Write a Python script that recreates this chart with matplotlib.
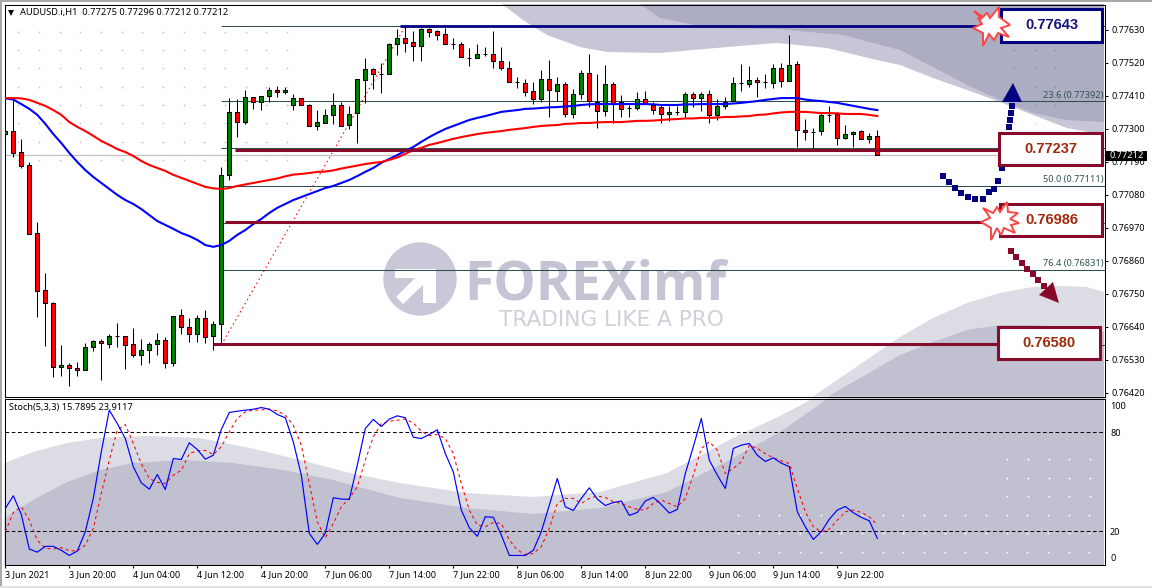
"""AUDUSD H1 chart with fibo levels, two moving averages and a stochastic pane."""
import matplotlib
matplotlib.use("Agg")
import matplotlib.pyplot as plt
import matplotlib.patches as mpatches
import numpy as np

W, H = 1152, 588
UI_FONT = ["Noto Sans", "DejaVu Sans"]
plt.rcParams["font.family"] = UI_FONT

# prices in points (1e-5)
opens = [77283, 77293, 77223, 77180, 76953, 76763, 76720, 76507, 76513, 76503,
         76497, 76573, 76593, 76583, 76610, 76610, 76583, 76547, 76563, 76583,
         76597, 76520, 76680, 76640, 76617, 76670, 76610, 76650, 77147, 77357,
         77323, 77407, 77390, 77410, 77430, 77423, 77380, 77403, 77380, 77310,
         77320, 77347, 77380, 77313, 77353, 77463, 77500, 77483, 77483, 77583,
         77603, 77590, 77577, 77633, 77627, 77617, 77583, 77583, 77537, 77537,
         77550, 77550, 77527, 77503, 77457, 77453, 77427, 77400, 77467, 77427,
         77450, 77350, 77417, 77487, 77390, 77360, 77450, 77390, 77370, 77370,
         77400, 77380, 77373, 77350, 77357, 77357, 77417, 77403, 77417, 77347,
         77377, 77393, 77453, 77450, 77463, 77457, 77453, 77503, 77460, 77517,
         77297, 77290, 77293, 77347, 77350, 77270, 77283, 77293, 77267, 77275]
highs = [77320, 77397, 77267, 77190, 76990, 76820, 76723, 76580, 76520, 76523,
         76587, 76597, 76600, 76617, 76653, 76610, 76637, 76600, 76590, 76620,
         76607, 76677, 76700, 76670, 76680, 76697, 76660, 77173, 77403, 77400,
         77430, 77407, 77410, 77440, 77443, 77440, 77417, 77403, 77383, 77363,
         77367, 77420, 77390, 77377, 77467, 77537, 77503, 77520, 77587, 77633,
         77643, 77627, 77637, 77637, 77630, 77637, 77603, 77590, 77570, 77583,
         77573, 77627, 77573, 77527, 77473, 77467, 77457, 77497, 77530, 77473,
         77457, 77433, 77497, 77550, 77483, 77513, 77457, 77413, 77380, 77423,
         77427, 77390, 77380, 77377, 77377, 77423, 77423, 77423, 77430, 77400,
         77407, 77473, 77517, 77510, 77473, 77483, 77517, 77520, 77613, 77527,
         77333, 77303, 77353, 77377, 77357, 77313, 77293, 77297, 77287, 77296]
lows = [77253, 77207, 77170, 76950, 76673, 76577, 76473, 76477, 76443, 76477,
        76497, 76560, 76463, 76570, 76573, 76500, 76540, 76513, 76520, 76547,
        76503, 76510, 76617, 76590, 76590, 76587, 76563, 76580, 77130, 77273,
        77317, 77367, 77363, 77390, 77407, 77417, 77363, 77380, 77310, 77297,
        77320, 77317, 77310, 77300, 77253, 77387, 77433, 77420, 77483, 77547,
        77557, 77527, 77527, 77607, 77597, 77583, 77567, 77540, 77510, 77537,
        77543, 77503, 77497, 77457, 77437, 77410, 77383, 77390, 77340, 77393,
        77340, 77337, 77400, 77373, 77303, 77343, 77320, 77340, 77340, 77363,
        77383, 77350, 77320, 77327, 77347, 77340, 77373, 77360, 77320, 77330,
        77367, 77393, 77427, 77440, 77407, 77437, 77437, 77440, 77460, 77240,
        77263, 77237, 77280, 77323, 77247, 77267, 77240, 77267, 77253, 77212]
closes = [77293, 77220, 77177, 76950, 76760, 76720, 76507, 76513, 76503, 76497,
          76573, 76593, 76587, 76610, 76610, 76580, 76547, 76563, 76583, 76597,
          76520, 76677, 76640, 76617, 76670, 76607, 76650, 77147, 77357, 77323,
          77407, 77390, 77410, 77430, 77423, 77430, 77403, 77380, 77310, 77323,
          77347, 77380, 77310, 77350, 77467, 77500, 77483, 77483, 77583, 77603,
          77587, 77577, 77633, 77623, 77613, 77583, 77583, 77540, 77537, 77550,
          77550, 77527, 77503, 77457, 77457, 77423, 77400, 77467, 77430, 77450,
          77350, 77417, 77487, 77393, 77360, 77450, 77383, 77367, 77370, 77400,
          77387, 77363, 77350, 77357, 77357, 77417, 77403, 77417, 77347, 77377,
          77390, 77453, 77453, 77463, 77457, 77457, 77503, 77460, 77513, 77297,
          77290, 77290, 77347, 77347, 77270, 77283, 77290, 77267, 77277, 77212]
ma_blue = [77402, 77398, 77383, 77367, 77347, 77317, 77283, 77253, 77220, 77190,
           77163, 77140, 77120, 77100, 77080, 77063, 77050, 77033, 77013, 76993,
           76980, 76967, 76953, 76943, 76930, 76913, 76907, 76913, 76927, 76947,
           76963, 76983, 77000, 77020, 77037, 77050, 77063, 77073, 77083, 77093,
           77103, 77110, 77120, 77130, 77143, 77157, 77170, 77187, 77200, 77213,
           77227, 77240, 77257, 77273, 77287, 77300, 77310, 77320, 77330, 77337,
           77343, 77350, 77357, 77360, 77363, 77367, 77368, 77370, 77372, 77373,
           77375, 77377, 77380, 77382, 77383, 77383, 77383, 77383, 77383, 77383,
           77383, 77382, 77380, 77380, 77380, 77382, 77382, 77383, 77383, 77383,
           77383, 77385, 77387, 77390, 77393, 77397, 77400, 77403, 77403, 77403,
           77398, 77395, 77393, 77390, 77387, 77382, 77377, 77372, 77367, 77363]
ma_red = [77403, 77403, 77402, 77397, 77387, 77377, 77363, 77347, 77323, 77307,
          77293, 77277, 77260, 77247, 77233, 77223, 77210, 77193, 77180, 77170,
          77160, 77147, 77137, 77127, 77117, 77107, 77102, 77100, 77103, 77110,
          77115, 77120, 77125, 77130, 77135, 77142, 77148, 77150, 77153, 77157,
          77158, 77162, 77168, 77173, 77178, 77183, 77187, 77190, 77197, 77205,
          77217, 77230, 77237, 77247, 77253, 77260, 77267, 77273, 77278, 77283,
          77287, 77290, 77293, 77297, 77300, 77303, 77307, 77310, 77312, 77313,
          77317, 77318, 77320, 77320, 77322, 77323, 77323, 77323, 77325, 77327,
          77327, 77328, 77330, 77332, 77333, 77335, 77335, 77337, 77337, 77338,
          77340, 77340, 77342, 77343, 77347, 77348, 77352, 77355, 77357, 77357,
          77357, 77355, 77353, 77353, 77352, 77350, 77350, 77350, 77347, 77343]
stoch_k = [33.9, 41.6, 30.3, 9.3, 7.4, 10.9, 10.9, 8.5, 5.4, 8.1,
           19.8, 40.0, 68.3, 93.5, 85.4, 76.3, 59.2, 49.5, 45.6, 54.5,
           45.4, 64.2, 63.6, 73.7, 69.7, 63.8, 66.2, 81.8, 92.1, 92.9,
           93.5, 94.1, 95.1, 94.1, 90.9, 88.9, 74.3, 54.1, 18.8, 12.1,
           18.8, 40.4, 39.6, 39.4, 60.2, 82.4, 87.9, 83.6, 88.1, 90.1,
           88.9, 77.1, 76.3, 78.8, 81.6, 67.2, 56.1, 32.9, 22.2, 17.0,
           28.9, 28.5, 17.8, 5.4, 5.4, 5.4, 8.5, 19.8, 35.9, 52.1,
           34.9, 32.7, 40.0, 46.4, 39.6, 35.7, 37.5, 38.4, 29.7, 31.5,
           38.4, 40.6, 36.3, 31.1, 33.3, 55.1, 71.3, 88.5, 63.2, 54.1,
           46.0, 70.3, 72.3, 73.3, 66.2, 62.4, 64.6, 61.4, 59.2, 31.9,
           22.8, 15.1, 19.8, 27.4, 32.9, 35.1, 31.3, 28.5, 26.4, 15.79]
stoch_d = [19.8, 31.5, 34.9, 26.8, 14.7, 9.7, 9.3, 10.1, 8.3, 8.1,
           11.7, 21.8, 43.0, 63.2, 81.4, 84.8, 73.3, 61.2, 52.1, 49.7,
           49.1, 54.1, 57.1, 67.2, 68.9, 69.1, 66.6, 71.3, 80.4, 88.5,
           92.5, 93.5, 93.7, 94.1, 93.1, 90.5, 84.4, 72.3, 49.1, 25.8,
           16.1, 24.8, 34.9, 40.0, 47.0, 63.2, 77.3, 85.4, 86.8, 87.4,
           88.1, 85.8, 80.8, 78.0, 78.8, 76.3, 67.2, 49.1, 32.9, 23.8,
           22.8, 25.4, 24.8, 14.7, 8.7, 6.0, 6.6, 10.7, 21.8, 36.9,
           40.0, 40.0, 36.9, 40.0, 41.4, 40.6, 38.0, 36.9, 34.9, 33.3,
           32.9, 36.9, 39.0, 36.9, 34.9, 40.0, 54.1, 70.3, 74.3, 69.3,
           55.1, 58.2, 62.2, 72.3, 70.3, 67.2, 64.6, 62.8, 61.2, 46.0,
           31.9, 22.8, 19.8, 21.4, 26.8, 31.9, 32.9, 31.5, 28.9, 23.91]

time_ticks = list(range(0, 112, 8))
time_labels = ["3 Jun 2021", "3 Jun 20:00", "4 Jun 04:00", "4 Jun 12:00",
               "4 Jun 20:00", "7 Jun 06:00", "7 Jun 14:00", "7 Jun 22:00",
               "8 Jun 06:00", "8 Jun 14:00", "8 Jun 22:00", "9 Jun 06:00",
               "9 Jun 14:00", "9 Jun 22:00"]
price_ticks = [0.77630, 0.77520, 0.77410, 0.77300, 0.77190, 0.77080,
               0.76970, 0.76860, 0.76750, 0.76640, 0.76530, 0.76420]
fib_levels = [0.77643, 0.77392, 0.77237, 0.77111, 0.76986, 0.76831, 0.76580]
# the other fibo captions are hidden behind the level boxes
fib_captions = [("23.6", 0.77392), ("50.0", 0.77111), ("76.4", 0.76831)]
last_price = 0.77212

# background artwork, in screen pixels
top_light = [(502, 4), (523, 20), (547, 35), (580, 47), (607, 52), (660, 53), (727, 47),
             (777, 43), (827, 48), (877, 60), (900, 65), (933, 78), (967, 90), (1000, 102),
             (1033, 115), (1067, 128), (1104, 135), (1104, 4)]
top_dark = [(640, 4), (660, 18), (710, 28), (777, 29), (843, 35), (900, 50), (933, 67),
            (967, 85), (1000, 100), (1033, 113), (1067, 120), (1104, 122), (1104, 4)]
low_light = [(813, 396.5), (900, 337), (933, 318), (967, 303), (1000, 293), (1033, 287),
             (1060, 286), (1087, 287), (1104, 292), (1104, 396.5)]
low_dark = [(828, 396.5), (900, 355), (933, 342), (967, 330), (1000, 325), (1033, 325),
            (1067, 328), (1104, 332), (1104, 396.5)]
sub_light = [(4.5, 463), (33, 452), (67, 443), (100, 438), (150, 436), (200, 438), (250, 448),
             (300, 460), (350, 473), (400, 483), (467, 493), (533, 497), (600, 492), (667, 473),
             (733, 438), (780, 416), (813, 398.5), (1104, 398.5), (1104, 565), (4.5, 565)]
sub_dark = [(4.5, 518), (33, 500), (67, 482), (100, 470), (133, 463), (183, 460), (233, 463),
            (283, 470), (333, 480), (400, 498), (467, 508), (533, 514), (600, 508), (667, 492),
            (733, 458), (780, 432), (828, 398.5), (1104, 398.5), (1104, 565), (4.5, 565)]
navy_dots = [(943, 176), (949, 182), (955, 188), (961, 193), (968, 197), (975, 199), (983, 199),
             (989, 192), (994, 189), (998, 181), (1002, 168), (1009, 127), (1010, 120),
             (1011, 113), (1012, 106)]
maroon_dots = [(1011, 251), (1016, 257), (1022, 263), (1027, 269), (1033, 274), (1038, 280),
               (1044, 286)]
burst_top = [(-18, -14), (-9, -8), (-5, -12), (-2, -7), (7, -18), (7, -8), (18, 0), (9, 3),
             (17, 12), (6, 8), (2, 15), (-3, 9), (-9, 21), (-9, 8), (-19, 3), (-10, -1),
             (-14, -7), (-10, -6)]
burst_mid = [(-17, -12), (-7, -7), (-3, -13), (0, -8), (7, -18), (8, -8), (18, -7), (10, -1),
             (19, 3), (11, 5), (15, 13), (4, 8), (1, 15), (-3, 8), (-9, 20), (-9, 8),
             (-19, 2), (-10, -2), (-13, -7)]
logo_arrow = [(395, 269), (453, 269), (436, 269), (436, 303), (423, 303), (423, 285), (403, 304),
              (396, 297), (415, 278), (395, 278)]

NAVY = "#000080"
MAROON = "#870a2b"
FIB = "#2f4f4f"


def pane(left, top, right, bottom, zorder):
    return fig.add_axes([left / W, 1 - bottom / H, (right - left) / W, (bottom - top) / H],
                        zorder=zorder)


fig = plt.figure(figsize=(W / 100, H / 100), dpi=100, facecolor="white")

# pixel layers behind and in front of the two chart panes
bg = pane(0, 0, W, H, 0)
fg = pane(0, 0, W, H, 5)
for layer in (bg, fg):
    layer.set_xlim(0, W)
    layer.set_ylim(H, 0)
    layer.axis("off")

# window border
bg.add_patch(mpatches.Rectangle((0, 0), W, 1.5, color="#a8a8a8", lw=0))
bg.add_patch(mpatches.Rectangle((0, 0), 2, H, color="#a8a8a8", lw=0))
bg.add_patch(mpatches.Rectangle((0, 586), W, 2, color="#e2e2e2", lw=0))

for shape, col in [(top_light, "#c6c6d6"), (top_dark, "#acacc2"),
                   (low_light, "#dcdce4"), (low_dark, "#c0c0d0"),
                   (sub_light, "#dcdce4"), (sub_dark, "#c0c0d0")]:
    bg.add_patch(mpatches.Polygon(shape, closed=True, facecolor=col, edgecolor="none"))

# dot grids of the background picture
for px in np.arange(18.3, 290, 20.67):
    for py in np.arange(31.7, 165, 18.3):
        bg.plot(px, py, "o", ms=1.3, color="#c6c6ce", mew=0)
for px in (1014, 1035, 1055):
    for py in (50, 68, 87, 105, 123):
        bg.plot(px, py, "o", ms=1.3, color="#8e8ea6" if py < 110 else "#d6d6e0", mew=0)
for py in (515, 533, 552):
    for px in np.arange(738, 1095, 20.67):
        bg.plot(px, py, "o", ms=1.4, color="white", mew=0)
for py in (459, 478, 496):
    for px in (1007, 1028, 1049, 1069, 1090):
        bg.plot(px, py, "o", ms=1.4, color="white", mew=0)

# watermark
bg.add_patch(mpatches.Circle((420, 279), 36.7, facecolor="#c8c8d8", edgecolor="none"))
bg.add_patch(mpatches.Polygon(logo_arrow, closed=True, facecolor="white", edgecolor="none"))
bg.text(464, 285, "FOREXimf", fontsize=38.5, fontweight="bold", family="Open Sans",
        color="#c4c4d4", va="center", ha="left")
bg.text(499, 320, "TRADING LIKE A PRO", fontsize=15.6, family="DejaVu Sans",
        color="#d0d0dc", va="center", ha="left")

# price pane
ax = pane(4.5, 4.5, 1104.5, 396.5, 1)
ax.patch.set_alpha(0)
bars = np.arange(len(opens))
o, h, l, c = [np.array(a) / 1e5 for a in (opens, highs, lows, closes)]
up = c >= o
ax.axhline(last_price, color="#c0c0c0", lw=0.9, zorder=1)
ax.hlines(fib_levels, 27, 137.4, color=FIB, lw=0.75, zorder=1.5)
ax.plot([27, 50], [fib_levels[-1], fib_levels[0]], color="red", lw=0.75,
        ls=(0, (1.5, 3)), zorder=1.6)
ax.vlines(bars, l, h, color="black", lw=0.75, zorder=2)
ax.bar(bars, np.abs(c - o), bottom=np.minimum(o, c), width=0.5,
       color=np.where(up, "#008000", "#ff0000"), edgecolor="black", linewidth=0.75, zorder=3)
ax.plot(bars, np.array(ma_blue) / 1e5, color="#0000ff", lw=1.5, zorder=4)
ax.plot(bars, np.array(ma_red) / 1e5, color="#ff0000", lw=1.5, zorder=4)

# support / resistance levels
ax.plot([49.3, 125], [0.77643, 0.77643], color=NAVY, lw=2, zorder=4.5, solid_capstyle="butt")
ax.plot([28.7, 125], [0.77231, 0.77231], color=MAROON, lw=2.2, zorder=4.5, solid_capstyle="butt")
ax.plot([27.4, 125], [0.76990, 0.76990], color=MAROON, lw=2.2, zorder=4.5, solid_capstyle="butt")
ax.plot([26, 125], [0.76582, 0.76582], color=MAROON, lw=2.2, zorder=4.5, solid_capstyle="butt")

for pct, lvl in fib_captions:
    ax.annotate(f"{pct} ({lvl:.5f})", (137.3, lvl), xytext=(0, 1), textcoords="offset points",
                ha="right", va="bottom", fontsize=6.6, color=FIB, zorder=2)

ax.set_xlim(-0.1, 137.4)
ax.set_ylim(0.76408, 0.77715)
ax.set_xticks([])
ax.yaxis.tick_right()
ax.set_yticks(price_ticks)
ax.set_yticklabels([f"{p:.5f}" for p in price_ticks])
ax.tick_params(axis="y", length=2.2, width=0.75, pad=2.5, labelsize=6.5)
for s in ax.spines.values():
    s.set_linewidth(0.75)

# stochastic pane
sub = pane(4.5, 398.5, 1104.5, 565, 1)
sub.patch.set_alpha(0)
sub.plot(bars, stoch_d, color="#ff0000", lw=0.75, ls=(0, (3, 3)), zorder=3)
sub.plot(bars, stoch_k, color="#0000ff", lw=0.85, zorder=4)
sub.axhline(80, color="black", lw=0.75, ls=(0, (3.5, 2.5)), zorder=2)
sub.axhline(20, color="black", lw=0.75, ls=(0, (3.5, 2.5)), zorder=2)
sub.set_xlim(-0.1, 137.4)
sub.set_ylim(-0.4, 100.6)
sub.set_xticks(time_ticks)
sub.set_xticklabels(time_labels, ha="left")
sub.yaxis.tick_right()
sub.set_yticks([80, 20])
sub.tick_params(axis="y", length=0, pad=4, labelsize=6.5)
sub.tick_params(axis="x", length=2.2, width=0.75, pad=1.5, labelsize=6.5)
for val, txt in [(96, "100"), (3.8, "0")]:
    sub.annotate(txt, (137.4, val), xytext=(4, 0), textcoords="offset points",
                 va="center", ha="left", fontsize=6.5, annotation_clip=False)
for s in sub.spines.values():
    s.set_linewidth(0.75)

# window captions
fg.plot(11, 12.5, "v", ms=4.5, color="black", mew=0)
fg.text(20.5, 12.7, "AUDUSD.i,H1  0.77275 0.77296 0.77212 0.77212", fontsize=6.7, va="center")
fg.text(9, 407.7, "Stoch(5,3,3) 15.7895 23.9117", fontsize=6.6, va="center")

# last price tag
fg.add_patch(mpatches.Rectangle((1106, 151), 41, 10, facecolor="black", edgecolor="none"))
fg.text(1126.5, 156, f"{last_price:.5f}", color="white", fontsize=6.6, ha="center", va="center")

# dotted arrows
fg.scatter(*zip(*navy_dots), marker="s", s=13, color=NAVY, linewidths=0, zorder=2)
fg.add_patch(mpatches.Polygon([(1013, 83), (1002, 102), (1022, 102)], facecolor=NAVY,
                              edgecolor="none", zorder=2))
fg.scatter(*zip(*maroon_dots), marker="s", s=13, color=MAROON, linewidths=0, zorder=2)
fg.add_patch(mpatches.Polygon([(1053, 282), (1039, 295), (1059, 303)], facecolor=MAROON,
                              edgecolor="none", zorder=2))

# level boxes
boxes = [(1001, 9, 101, 33, NAVY, "0.77643", "#14147c"),
         (999, 133, 103, 32, MAROON, "0.77237", "#9e2a0c"),
         (1000, 204, 102, 32, MAROON, "0.76986", "#9e2a0c"),
         (998, 327, 102, 32, MAROON, "0.76580", "#9e2a0c")]
for bx, by, bw, bh, edge, txt, tcol in boxes:
    fg.add_patch(mpatches.Rectangle((bx, by), bw, bh, facecolor="white", edgecolor=edge,
                                    lw=2.2, zorder=3))
    fg.text(bx + bw / 2 + (1 if txt == "0.76986" else 0), by + bh / 2 - (0.5 if edge == NAVY else 0),
            txt, color=tcol, fontsize=10.5, fontweight="bold", family="Liberation Sans",
            ha="center", va="center", zorder=4)

# bursts sit on top of the boxes
for centre, pts in [((992, 25), burst_top), ((1000, 220), burst_mid)]:
    verts = [(centre[0] + dx, centre[1] + dy) for dx, dy in pts]
    fg.add_patch(mpatches.Polygon(verts, closed=True, facecolor="white", edgecolor="#ff4444",
                                  lw=1.4, zorder=5))

fig.savefig("out.png", dpi=100)
